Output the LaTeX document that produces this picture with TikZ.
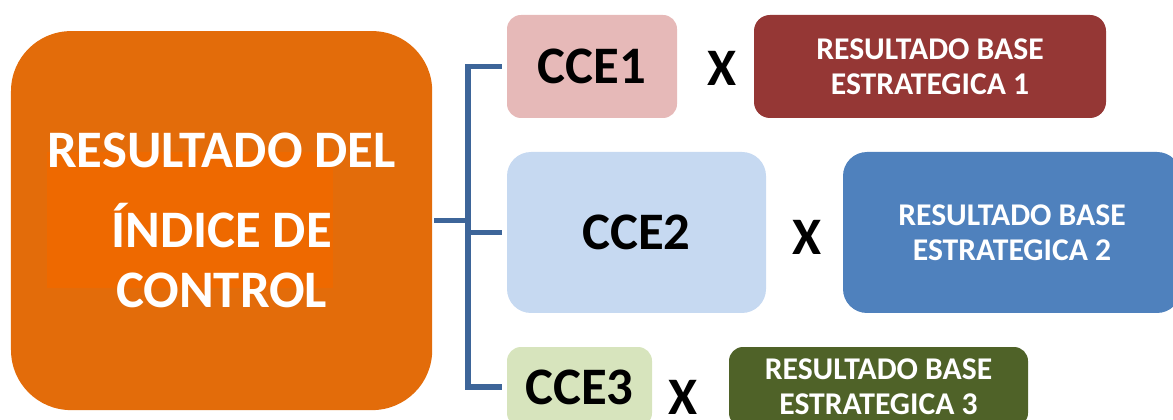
\documentclass[tikz,border=0pt]{standalone}
\usepackage{fontspec}
\setmainfont{Carlito}
\usetikzlibrary{positioning, calc}

\definecolor{indexorange}{HTML}{E36C0A}
\definecolor{indexcore}{HTML}{EE6900}
\definecolor{bracketblue}{HTML}{3D6599}
\definecolor{cceone}{HTML}{E6B9B8}
\definecolor{ccetwo}{HTML}{C6D9F1}
\definecolor{ccethree}{HTML}{D7E4BD}
\definecolor{baseone}{HTML}{953735}
\definecolor{basetwo}{HTML}{4F81BD}
\definecolor{basethree}{HTML}{4F6228}

\begin{document}
\begin{tikzpicture}[
  box/.style={rounded corners=#1, inner sep=0pt, align=center},
  bigtext/.style={font=\fontsize{37.5}{42.7}\selectfont\bfseries},
  basetext/.style={text=white, font=\fontsize{22.5}{24.9}\selectfont\bfseries},
  link/.style={draw=bracketblue, line width=3.6pt},
]

\useasboundingbox (0,0) rectangle (29.325,10.475);
\clip (0,0) rectangle (29.325,10.475);

% ---- Main result ----------------------------------------------------------
\node[box=1.5cm, fill=indexorange, minimum width=10.53cm, minimum height=9.475cm]
     (main) at (5.54,4.96) {};
\fill[indexcore] (1.175,3.275) rectangle (8.325,6.675);
\node[bigtext, text=white, align=center] (maintext) at (main.center)
     {RESULTADO DEL\\[14pt]ÍNDICE DE\\CONTROL};

% ---- Coefficients ---------------------------------------------------------
\node[box=0.35cm, fill=cceone, minimum width=4.25cm, minimum height=2.575cm, bigtext]
     (cce1) at (14.8,8.8125) {CCE1};
\node[box=0.6cm, fill=ccetwo, minimum width=6.475cm, minimum height=4.025cm, bigtext]
     (cce2) at (15.9125,4.6625) {CCE2};
\node[box=0.35cm, fill=ccethree, minimum width=3.625cm, minimum height=2.0cm, bigtext]
     (cce3) at (14.4875,0.8) {CCE3};

% ---- Times signs ----------------------------------------------------------
\node[bigtext] (times1) at (18.05,8.775) {X};
\node[bigtext] (times2) at (20.175,4.55) {X};
\node[bigtext] (times3) at (17.075,0.55) {X};

% ---- Strategic bases ------------------------------------------------------
\node[box=0.4cm, fill=baseone, minimum width=8.8cm, minimum height=2.575cm, basetext]
     (base1) at (23.25,8.8125) {RESULTADO BASE\\ESTRATEGICA 1};
\node[box=0.6cm, fill=basetwo, minimum width=8.45cm, minimum height=4.025cm, basetext]
     (base2) at (25.3,4.6625) {RESULTADO BASE\\ESTRATEGICA 2};
\node[box=0.35cm, fill=basethree, minimum width=7.475cm, minimum height=2.0cm, basetext]
     (base3) at (21.9625,0.8) {RESULTADO BASE\\ESTRATEGICA 3};

% ---- Bracket --------------------------------------------------------------
\coordinate (spine) at (11.7,4.96);
\draw[link, shorten <=0.05cm] (main.east) -- (spine);
\draw[link, shorten <=0.125cm] (cce1.west) -| (spine) |- ([xshift=-0.125cm]cce3.west);
\draw[link, shorten >=0.125cm] (spine |- cce2.west) -- (cce2.west);

\end{tikzpicture}
\end{document}
